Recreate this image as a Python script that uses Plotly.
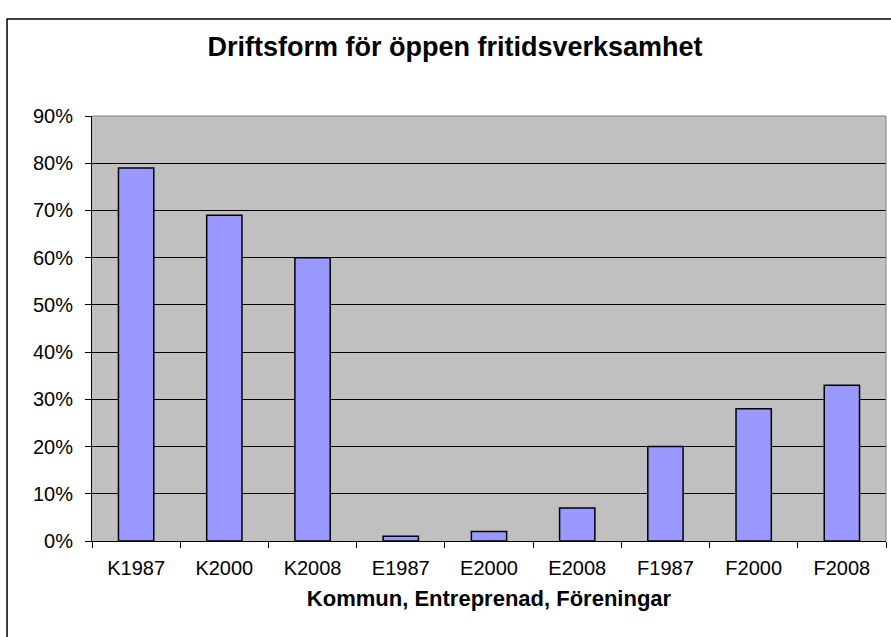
import plotly.graph_objects as go

categories = ["K1987", "K2000", "K2008", "E1987", "E2000", "E2008", "F1987", "F2000", "F2008"]
values = [0.79, 0.69, 0.60, 0.01, 0.02, 0.07, 0.20, 0.28, 0.33]
y_ticks = [0, 0.1, 0.2, 0.3, 0.4, 0.5, 0.6, 0.7, 0.8, 0.9]

fig = go.Figure()
fig.add_trace(go.Bar(x=categories, y=values, width=0.4,
                     marker=dict(color="#9999FF", line=dict(color="black", width=1.5))))

fig.update_layout(
    width=891, height=637,
    margin=dict(l=92, r=5, t=116, b=96),
    paper_bgcolor="white",
    plot_bgcolor="#C0C0C0",
    font=dict(family="Liberation Sans, Arial", color="black", size=20),
    title=dict(text="<b>Driftsform för öppen fritidsverksamhet</b>",
               x=455 / 891, xanchor="center", y=1 - 47 / 637, yanchor="middle",
               font=dict(size=27)),
    showlegend=False,
)
fig.update_xaxes(
    showline=True, linecolor="black", linewidth=1,
    ticks="outside", ticklen=6, tickcolor="black", tickson="boundaries",
    ticklabelstandoff=9,
    showgrid=False,
    title=dict(text="<b>Kommun, Entreprenad, Föreningar</b>", font=dict(size=22), standoff=12),
)
fig.update_yaxes(
    range=[0, 0.9], tickvals=y_ticks, tickformat=".0%",
    showline=True, linecolor="black", linewidth=1,
    ticks="outside", ticklen=6, tickcolor="black",
    ticklabelstandoff=8,
    showgrid=True, gridcolor="black", gridwidth=1, zeroline=False,
)

# plot-area border on top and right (grey), outer chart border (black)
fig.add_shape(type="line", xref="paper", yref="paper", x0=0, x1=1, y0=1, y1=1,
              line=dict(color="#808080", width=1))
fig.add_shape(type="line", xref="paper", yref="paper", x0=1, x1=1, y0=0, y1=1,
              line=dict(color="#808080", width=1))
fig.add_shape(type="rect", xref="paper", yref="paper", x0=-0.107, x1=2, y0=-2, y1=1.228,
              line=dict(color="black", width=1.5), layer="below")

fig.write_html("out.html", config={"displayModeBar": False},
               post_script="document.body.style.margin='0';")
